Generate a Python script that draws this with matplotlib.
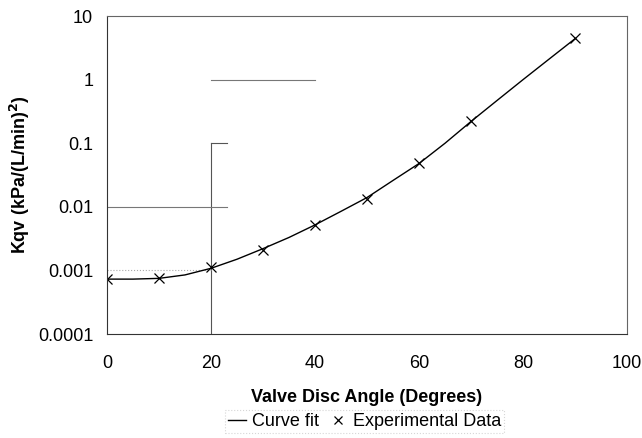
import matplotlib.pyplot as plt
import numpy as np

plt.rcParams['font.family'] = ['Liberation Sans', 'DejaVu Sans']

# experimental data
angle = [0, 10, 20, 30, 40, 50, 60, 70, 90]
kqv = [0.00074, 0.00075, 0.00115, 0.0021, 0.0051, 0.0135, 0.048, 0.22, 4.5]

# curve fit
fit_angle = [0, 5, 10, 15, 20, 25, 30, 35, 40, 45, 50, 55, 60, 65, 70, 75, 80, 85, 90]
fit_kqv = [0.00073, 0.00073, 0.00075, 0.00085, 0.00108, 0.0015, 0.0022, 0.0033,
           0.0052, 0.0085, 0.014, 0.026, 0.048, 0.1, 0.22, 0.47, 1.0, 2.1, 4.4]

fig = plt.figure(figsize=(6.42, 4.38), dpi=100)
ax = fig.add_axes([0.1667, 0.2374, 0.81, 0.726])

# faint remains of the gridlines
ax.axvline(20, ymin=0, ymax=0.6, color='#555555', lw=0.8)
ax.axhline(0.1, xmin=0.2, xmax=0.23, color='#555555', lw=0.8)
ax.axhline(0.01, xmin=0, xmax=0.23, color='#777777', lw=0.8)
ax.axhline(1, xmin=0.2, xmax=0.4, color='#777777', lw=0.8)
ax.axhline(0.001, xmin=0, xmax=0.2, color='#aaaaaa', lw=0.8, ls=':')

ax.plot(fit_angle, fit_kqv, color='black', lw=1.0, label='Curve fit')
ax.plot(angle, kqv, ls='none', marker='x', ms=7.5, mew=0.9, color='black',
        label='Experimental Data')

ax.set_yscale('log')
ax.set_xlim(0, 100)
ax.set_ylim(0.0001, 10)
ax.set_xticks([0, 20, 40, 60, 80, 100])
ax.set_yticks([0.0001, 0.001, 0.01, 0.1, 1, 10])
ax.set_yticklabels(['0.0001', '0.001', '0.01', '0.1', '1', '10'])
ax.minorticks_off()
ax.tick_params(length=0, labelsize=13)
ax.tick_params(axis='x', pad=15)
ax.tick_params(axis='y', pad=10)

for s in ['left', 'bottom']:
    ax.spines[s].set_color('#333333')
    ax.spines[s].set_linewidth(0.8)
for s in ['top', 'right']:
    ax.spines[s].set_color('#666666')
    ax.spines[s].set_linewidth(0.8)

ax.set_xlabel('Valve Disc Angle (Degrees)', fontsize=13, fontweight='bold', labelpad=12)
ax.set_ylabel('Kqv (kPa/(L/min)$^\\mathbf{2}$)', fontsize=13, fontweight='bold', labelpad=4)

leg = fig.legend(loc='center', bbox_to_anchor=(0.568, 0.038), ncol=2, fontsize=13,
                 handlelength=1.0, handletextpad=0.3, columnspacing=0.6,
                 borderpad=0.15, fancybox=False, markerscale=0.75)
leg.get_frame().set_edgecolor('#cccccc')
leg.get_frame().set_linestyle(':')
leg.get_frame().set_linewidth(0.8)

fig.savefig('out.png', dpi=100)
